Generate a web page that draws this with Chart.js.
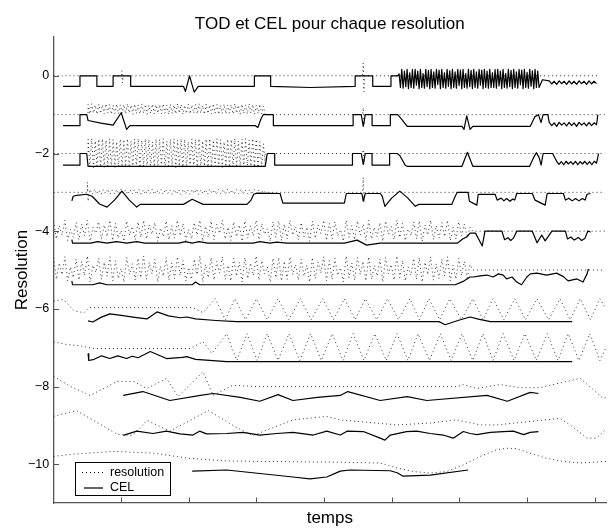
<!DOCTYPE html>
<html>
<head>
<meta charset="utf-8">
<script src="https://cdn.jsdelivr.net/npm/chart.js@4.4.1/dist/chart.umd.min.js"></script>
<style>
  html, body { margin: 0; padding: 0; background: #fff; }
</style>
</head>
<body>
<canvas id="chart" width="609" height="529"></canvas>
<script>
// time axis: 0..817, ticks every 100 (no labels); resolution axis: -11..1
const xTicks = [100, 200, 300, 400, 500, 600, 700, 800];
const yTicks = [-10, -8, -6, -4, -2, 0];

// dense stretches: values typed off the picture, spread evenly over their span
const cel0Mesh = [0.05, -0.3, 0.17, -0.32, 0.12, -0.28, 0.17, -0.33, 0.08, -0.3, 0.16, -0.32, 0.17, -0.24, 0.12, -0.33, 0.17, -0.3, 0.06, -0.32,
  0.17, -0.28, 0.14, -0.33, 0.17, -0.3, 0.1, -0.32, 0.17, -0.22, 0.15, -0.33, 0.17, -0.3, 0.08, -0.32, 0.17, -0.27, 0.13, -0.33,
  0.17, -0.3, 0.1, -0.32, 0.17, -0.25, 0.15, -0.33, 0.17, -0.3, 0.06, -0.32, 0.17, -0.28, 0.14, -0.33, 0.17, -0.3, 0.1, -0.32,
  0.17, -0.24, 0.15, -0.33, 0.17, -0.3, 0.12, -0.32, 0.17, -0.3, 0.08, -0.3, 0.16, -0.32, 0.17, -0.26, 0.12, -0.33, 0.17, -0.3,
  0.06, -0.32, 0.17, -0.28, 0.14, -0.33, 0.17, -0.3, 0.1, -0.32, 0.17, -0.23, 0.15, -0.33, 0.17, -0.3, 0.09, -0.32, 0.17, -0.27,
  0.13, -0.33, 0.17, -0.3, 0.12, -0.3];
const saw0 = [-0.13, -0.21, -0.14, -0.22, -0.13, -0.2, -0.14, -0.22, -0.13, -0.21, -0.14, -0.22, -0.13, -0.2, -0.14, -0.22, -0.13, -0.21, -0.14, -0.2];
const saw1 = [-1.2, -1.28, -1.21, -1.3, -1.2, -1.27, -1.21, -1.29, -1.2, -1.28, -1.21, -1.3, -1.2, -1.27, -1.21, -1.29, -1.2, -1.28, -1.21, -1.26];
const saw2 = [-2.2, -2.28, -2.21, -2.29, -2.2, -2.27, -2.21, -2.28, -2.2, -2.29, -2.21, -2.27, -2.2, -2.28, -2.21, -2.29, -2.2, -2.25];

const tod1Chain = [-0.74, -0.98, -0.72, -0.96, -0.76, -0.99, -0.73, -0.97, -0.75, -0.98,
  -0.72, -0.96, -0.74, -0.99, -0.76, -0.97, -0.73, -0.98, -0.75, -0.96,
  -0.74, -0.98, -0.72, -0.96, -0.76, -0.99, -0.73, -0.97, -0.75, -0.98,
  -0.72, -0.96, -0.74, -0.99, -0.76, -0.97, -0.73, -0.98, -0.75, -0.96,
  -0.74, -0.98, -0.72, -0.96, -0.76, -0.99, -0.73, -0.97, -0.75, -0.98,
  -0.72, -0.96, -0.74, -0.99, -0.76, -0.97, -0.73, -0.98, -0.75, -0.96,
  -0.74, -0.98, -0.72, -0.96, -0.76, -0.99, -0.73, -0.97, -0.75, -0.98,
  -0.72, -0.96, -0.74, -0.99, -0.76, -0.97, -0.73, -0.98, -0.75, -0.96,
  -0.74, -0.98, -0.72, -0.96, -0.76, -0.99, -0.73, -0.97, -0.75, -0.98,
  -0.72, -0.96, -0.74, -0.99, -0.76, -0.97, -0.73, -0.98, -0.78, -1.0];
const tod2Mesh = [-1.64, -2.34, -1.62, -2.36, -1.68, -2.32, -1.63, -2.35, -1.62, -2.36,
  -1.66, -2.33, -1.62, -2.35, -1.64, -2.36, -1.7, -2.34, -1.63, -2.35,
  -1.64, -2.34, -1.62, -2.36, -1.68, -2.32, -1.63, -2.35, -1.62, -2.36,
  -1.66, -2.33, -1.62, -2.35, -1.64, -2.36, -1.7, -2.34, -1.63, -2.35,
  -1.64, -2.34, -1.62, -2.36, -1.68, -2.32, -1.63, -2.35, -1.62, -2.36,
  -1.66, -2.33, -1.62, -2.35, -1.64, -2.36, -1.7, -2.34, -1.63, -2.35,
  -1.64, -2.34, -1.62, -2.36, -1.68, -2.32, -1.63, -2.35, -1.62, -2.36,
  -1.66, -2.33, -1.62, -2.35, -1.64, -2.36, -1.7, -2.34, -1.63, -2.35,
  -1.64, -2.34, -1.62, -2.36, -1.68, -2.32, -1.63, -2.35, -1.62, -2.36,
  -1.66, -2.33, -1.62, -2.35, -1.64, -2.36, -1.7, -2.34, -1.75, -2.3];
const tod3Zig = [-2.93, -3.05, -2.92, -3.04, -2.94, -3.05, -2.93, -3.03, -2.92, -3.05,
  -2.94, -3.04, -2.93, -3.05, -2.92, -3.03, -2.94, -3.05, -2.93, -3.04,
  -2.93, -3.05, -2.92, -3.04, -2.94, -3.05, -2.93, -3.03, -2.92, -3.05,
  -2.94, -3.04, -2.93, -3.05, -2.92, -3.03, -2.94, -3.05, -2.93, -3.04,
  -2.93, -3.05, -2.92, -3.04, -2.94, -3.05, -2.93, -3.03, -2.92, -3.05,
  -2.94, -3.04, -2.93, -3.05, -2.92, -3.03, -2.94, -3.05, -2.93, -3.04,
  -2.93, -3.05, -2.92, -3.04, -2.94, -3.05, -2.93, -3.03, -2.92, -3.05,
  -2.94, -3.04, -2.93, -3.05, -2.92, -3.03, -2.94, -3.05, -2.95, -3.0];
const tod4Cloud = [-3.74, -4.2, -3.86, -4.1, -3.72, -4.24, -3.95, -4.16, -3.78, -4.22,
  -3.82, -4.12, -3.72, -4.26, -3.9, -4.05, -3.76, -4.2, -3.84, -4.14,
  -3.72, -4.24, -3.8, -4.18, -3.98, -4.26, -3.74, -4.1, -3.88, -4.22,
  -3.76, -4.16, -3.72, -4.2, -3.84, -4.08, -3.78, -4.26, -3.92, -4.14,
  -3.74, -4.22, -3.86, -4.18, -3.72, -4.12, -3.8, -4.24, -3.96, -4.2,
  -3.78, -4.1, -3.72, -4.26, -3.88, -4.16, -3.74, -4.22, -3.82, -4.06,
  -3.72, -4.2, -3.9, -4.24, -3.76, -4.14, -3.84, -4.26, -3.74, -4.18,
  -3.86, -4.12, -3.72, -4.22, -3.8, -4.08, -3.94, -4.26, -3.76, -4.16,
  -3.74, -4.24, -3.82, -4.2, -3.72, -4.1, -3.88, -4.22, -3.78, -4.14,
  -3.9, -4.26, -3.74, -4.18, -3.84, -4.06, -3.72, -4.24, -3.8, -4.2,
  -3.76, -4.12, -3.96, -4.26, -3.72, -4.16, -3.86, -4.22, -3.74, -4.1,
  -3.82, -4.24, -3.72, -4.2, -3.9, -4.14, -3.78, -4.26, -3.74, -4.08,
  -3.88, -4.22, -3.72, -4.16, -3.8, -4.24, -3.94, -4.12, -3.76, -4.2,
  -3.74, -4.26, -3.84, -4.1, -3.72, -4.22, -3.86, -4.18, -3.78, -4.14,
  -3.72, -4.24, -3.9, -4.2, -3.76, -4.12, -3.82, -4.16, -3.9, -4.0];
const tod5Cloud = [-4.68, -5.24, -4.82, -5.12, -4.66, -5.28, -4.92, -5.2, -4.72, -5.26,
  -4.78, -5.14, -4.64, -5.31, -4.88, -5.06, -4.7, -5.24, -4.8, -5.16,
  -4.66, -5.28, -4.76, -5.22, -4.96, -5.31, -4.68, -5.12, -4.84, -5.26,
  -4.7, -5.2, -4.64, -5.24, -4.8, -5.1, -4.72, -5.31, -4.9, -5.16,
  -4.68, -5.26, -4.82, -5.22, -4.66, -5.14, -4.76, -5.28, -4.94, -5.24,
  -4.72, -5.12, -4.64, -5.31, -4.86, -5.2, -4.68, -5.26, -4.78, -5.08,
  -4.66, -5.24, -4.88, -5.28, -4.7, -5.16, -4.8, -5.31, -4.68, -5.22,
  -4.82, -5.14, -4.64, -5.26, -4.76, -5.1, -4.92, -5.31, -4.7, -5.2,
  -4.68, -5.28, -4.78, -5.24, -4.66, -5.12, -4.86, -5.26, -4.72, -5.16,
  -4.88, -5.31, -4.68, -5.22, -4.8, -5.08, -4.66, -5.28, -4.76, -5.24,
  -4.7, -5.14, -4.94, -5.31, -4.64, -5.2, -4.82, -5.26, -4.68, -5.12,
  -4.78, -5.28, -4.66, -5.24, -4.88, -5.16, -4.72, -5.31, -4.68, -5.1,
  -4.86, -5.26, -4.64, -5.2, -4.76, -5.28, -4.92, -5.14, -4.7, -5.24,
  -4.68, -5.31, -4.8, -5.12, -4.66, -5.26, -4.84, -5.22, -4.72, -5.16,
  -4.66, -5.28, -4.88, -5.24, -4.7, -5.14, -4.78, -5.2, -4.86, -5.0];

function spread(t0, t1, vals) {
  const step = (t1 - t0) / (vals.length - 1);
  return vals.map((v, i) => [t0 + i * step, v]);
}

// TOD (dotted) per resolution
const tod0 = [[0, 0], [100, 0], [101, 0.13], [102, -0.18], [103, 0], [457, 0], [458, 0.33], [459, -0.41], [460, 0], [805, 0]];
const tod1 = [[0, -1], [51, -1], ...spread(51, 313, tod1Chain), [457, -1], [458, -0.82], [459, -1.26], [460, -1], [815, -1]];
const tod2 = [[0, -2], [51, -2], ...spread(51, 313, tod2Mesh), [313, -2], [457, -2], [458, -1.9], [459, -2.28], [460, -2], [815, -2]];
const tod3 = [[0, -3], [50, -3], [50, -2.74], [51, -3.23], [53, -3], ...spread(54, 313, tod3Zig), [457, -3], [458, -2.62], [459, -3.26], [460, -3], [815, -3]];
const tod4 = [...spread(0, 620, tod4Cloud), [815, -4]];
const tod5 = [...spread(0, 620, tod5Cloud), [815, -5]];
const tod6 = [[0, -5.8], [15, -5.76], [30, -6.05], [45, -6.1], [52, -5.97], [206, -5.97], [221, -6.1], [239, -5.74], [254, -6.28], [268, -5.74],
  [284, -6.28], [300, -5.74], [316, -6.28], [332, -5.74], [348, -6.28], [365, -5.74], [381, -6.28], [398, -5.74], [414, -6.28], [430, -5.74],
  [446, -6.28], [461, -5.74], [478, -6.28], [494, -5.74], [510, -6.28], [527, -5.74], [541, -6.28], [555, -5.74], [571, -6.28], [586, -5.74],
  [603, -6.28], [620, -5.74], [635, -6.28], [650, -5.74], [666, -6.28], [682, -5.74], [698, -6.28], [715, -5.74], [732, -6.28], [749, -5.74],
  [764, -6.28], [779, -5.74], [794, -6.28], [808, -5.74], [817, -6.0]];
const tod7 = [[0, -6.85], [20, -6.92], [39, -6.95], [58, -7.02], [202, -7.02], [221, -6.85], [234, -7.15], [256, -6.64], [271, -7.33], [286, -6.64],
  [301, -7.33], [316, -6.64], [332, -7.33], [348, -6.64], [364, -7.33], [380, -6.64], [396, -7.33], [412, -6.64], [428, -7.33], [443, -6.64],
  [459, -7.33], [475, -6.64], [492, -7.33], [508, -6.64], [524, -7.33], [539, -6.64], [556, -7.33], [572, -6.64], [588, -7.33], [604, -6.64],
  [620, -7.33], [635, -6.64], [650, -7.33], [665, -6.64], [681, -7.33], [697, -6.64], [714, -7.33], [730, -6.64], [746, -7.33], [761, -6.64],
  [777, -7.33], [793, -6.64], [808, -7.33], [817, -7.0]];
const tod8 = [[0, -7.74], [25, -8.0], [54, -8.23], [94, -7.87], [118, -7.87], [138, -8.05], [167, -7.79], [184, -8.26], [221, -7.62], [236, -8.23],
  [265, -7.97], [300, -8.0], [597, -8.0], [606, -7.95], [626, -8.05], [660, -7.95], [690, -8.03], [719, -8.03], [779, -7.79], [813, -8.31], [817, -8.28]];
const tod9 = [[0, -8.77], [34, -8.62], [94, -9.23], [117, -9.26], [138, -8.87], [172, -9.15], [229, -8.62], [270, -9.05], [295, -9.26], [354, -8.86],
  [404, -8.77], [424, -8.86], [508, -8.99], [557, -8.94], [596, -8.86], [631, -8.99], [655, -8.99], [705, -8.9], [749, -8.82], [764, -8.99],
  [789, -9.33], [803, -9.33], [817, -9.1]];
const tod10 = [[0, -9.8], [30, -9.74], [90, -9.67], [150, -9.72], [200, -9.85], [260, -9.92], [424, -9.95], [483, -9.97], [508, -10.1], [532, -10.19],
  [557, -10.23], [581, -10.19], [606, -10.02], [631, -9.8], [655, -9.63], [670, -9.59], [685, -9.6], [705, -9.72], [729, -9.85], [754, -9.93],
  [779, -9.97], [817, -9.93]];

// CEL (solid) per resolution
const cel0 = [[14, -0.27], [39, -0.27], [39, 0], [64, 0], [64, -0.27], [88, -0.27], [88, 0], [114, 0], [114, -0.27], [192, -0.27],
  [195, -0.4], [201, 0], [208, -0.42], [214, -0.27], [297, -0.27], [297, 0], [321, 0], [321, -0.27], [380, -0.3], [446, -0.27],
  [446, 0], [472, 0], [472, -0.27], [499, -0.27], [499, 0], [509, 0], ...spread(511, 718, cel0Mesh), [723, -0.1], ...spread(733, 803, saw0)];
const cel1 = [[14, -1.28], [39, -1.28], [39, -1], [49, -1], [51, -1.15], [70, -1.22], [88, -1.27], [100, -0.95], [108, -1.38], [113, -1.28],
  [298, -1.28], [302, -1.33], [307, -1.1], [310, -1.0], [325, -1.0], [325, -1.28], [443, -1.28], [443, -1], [455, -1], [458, -1.3],
  [461, -1], [471, -1], [471, -1.28], [498, -1.28], [498, -1], [509, -1], [514, -1.1], [523, -1.3], [604, -1.3], [607, -1.38],
  [611, -1.03], [616, -1.38], [620, -1.3], [705, -1.3], [712, -1.05], [717, -1.0], [721, -1.2], [724, -1.0], [731, -1.0],
  ...spread(733, 803, saw1), [805, -1.0]];
const cel2 = [[14, -2.3], [39, -2.3], [39, -2], [49, -2], [51, -2.33], [313, -2.33], [316, -2.0], [327, -2.0], [327, -2.3], [442, -2.3],
  [442, -2.0], [455, -2.0], [458, -2.28], [461, -2.0], [471, -2.0], [471, -2.3], [497, -2.3], [497, -2.0], [508, -2.0], [512, -2.05],
  [520, -2.3], [523, -2.33], [604, -2.33], [612, -1.97], [620, -2.33], [704, -2.33], [710, -2.1], [714, -1.98], [718, -2.1], [721, -2.3],
  [724, -2.0], [738, -2.0], ...spread(744, 803, saw2), [806, -2.0]];
const cel3 = [[27, -3.22], [29, -3.1], [34, -3.08], [49, -3.05], [57, -3.1], [68, -3.3], [79, -3.38], [90, -3.2], [101, -2.97], [112, -3.2],
  [123, -3.38], [128, -3.31], [192, -3.31], [205, -3.18], [221, -3.31], [286, -3.31], [292, -3.2], [296, -3.05], [301, -3.02], [335, -3.03],
  [339, -3.28], [430, -3.28], [433, -3.03], [456, -3.03], [458, -3.23], [461, -3.03], [483, -3.03], [486, -3.1], [490, -3.36], [500, -3.15],
  [512, -2.97], [524, -3.15], [535, -3.36], [540, -3.31], [589, -3.31], [594, -3.1], [597, -3.0], [613, -3.0], [615, -3.23], [626, -3.33],
  [628, -3.05], [653, -3.05], [656, -3.2], [662, -3.15], [666, -3.22], [670, -3.16], [675, -3.23], [679, -3.17], [682, -3.2], [685, -3.03],
  [708, -3.03], [712, -3.2], [727, -3.33], [730, -3.03], [754, -3.03], [757, -3.2], [762, -3.15], [767, -3.22], [772, -3.16], [777, -3.22],
  [782, -3.16], [786, -3.2], [789, -3.05], [794, -3.03]];
const cel4 = [[27, -4.22], [28, -4.31], [55, -4.31], [65, -4.27], [79, -4.31], [93, -4.27], [108, -4.31], [123, -4.27], [135, -4.31], [185, -4.31],
  [195, -4.27], [205, -4.31], [215, -4.27], [228, -4.31], [295, -4.31], [305, -4.27], [320, -4.31], [330, -4.28], [345, -4.31], [430, -4.31],
  [449, -4.23], [463, -4.36], [483, -4.31], [597, -4.31], [605, -4.2], [611, -4.15], [616, -4.05], [624, -4.05], [634, -4.38], [638, -4.0],
  [663, -4.0], [667, -4.22], [672, -4.17], [676, -4.24], [680, -4.18], [685, -4.0], [708, -4.0], [715, -4.3], [722, -4.1], [727, -4.25],
  [737, -4.0], [757, -4.0], [760, -4.2], [765, -4.15], [770, -4.23], [776, -4.16], [781, -4.24], [786, -4.18], [790, -4.0], [794, -4.02]];
const cel5 = [[27, -5.28], [28, -5.38], [58, -5.38], [68, -5.33], [79, -5.38], [205, -5.38], [210, -5.31], [216, -5.38], [594, -5.38], [605, -5.3],
  [616, -5.18], [621, -5.18], [631, -5.15], [641, -5.13], [650, -5.18], [658, -5.1], [665, -5.13], [670, -5.23], [678, -5.18], [685, -5.31],
  [692, -5.38], [700, -5.18], [705, -5.1], [715, -5.08], [729, -5.13], [744, -5.08], [754, -5.17], [761, -5.28], [774, -5.23], [783, -5.31],
  [789, -5.1], [791, -4.97]];
const cel6 = [[51, -6.31], [58, -6.34], [70, -6.22], [83, -6.13], [100, -6.17], [120, -6.22], [138, -6.26], [153, -6.08], [170, -6.18], [187, -6.23],
  [197, -6.21], [210, -6.26], [240, -6.3], [271, -6.33], [570, -6.33], [579, -6.41], [598, -6.3], [616, -6.21], [630, -6.27], [646, -6.33], [767, -6.33]];
const cel7 = [[51, -7.15], [52, -7.33], [60, -7.3], [71, -7.21], [83, -7.28], [95, -7.21], [108, -7.28], [116, -7.22], [125, -7.26], [143, -7.1],
  [167, -7.28], [190, -7.25], [197, -7.23], [210, -7.3], [256, -7.36], [767, -7.36]];
const cel8 = [[103, -8.23], [132, -8.13], [172, -8.36], [217, -8.23], [236, -8.18], [276, -8.28], [305, -8.38], [332, -8.21], [354, -8.36], [390, -8.28],
  [424, -8.23], [435, -8.13], [483, -8.36], [523, -8.26], [552, -8.36], [641, -8.23], [671, -8.38], [705, -8.15], [717, -8.18]];
const cel9 = [[103, -9.26], [123, -9.15], [147, -9.21], [167, -9.15], [187, -9.22], [206, -9.25], [216, -9.15], [226, -9.22], [256, -9.21], [280, -9.18],
  [305, -9.25], [330, -9.21], [354, -9.18], [384, -9.25], [404, -9.15], [424, -9.25], [434, -9.15], [458, -9.16], [483, -9.33], [490, -9.38],
  [498, -9.25], [522, -9.16], [537, -9.15], [557, -9.21], [576, -9.25], [591, -9.33], [606, -9.16], [616, -9.21], [626, -9.24], [646, -9.18],
  [665, -9.16], [680, -9.15], [695, -9.24], [705, -9.18], [717, -9.16]];
const cel10 = [[205, -10.18], [256, -10.15], [305, -10.24], [354, -10.33], [379, -10.38], [404, -10.33], [424, -10.18], [438, -10.15], [498, -10.17],
  [508, -10.22], [517, -10.31], [557, -10.28], [613, -10.15]];

const tods = [tod0, tod1, tod2, tod3, tod4, tod5, tod6, tod7, tod8, tod9, tod10];
const cels = [cel0, cel1, cel2, cel3, cel4, cel5, cel6, cel7, cel8, cel9, cel10];

const fontFamily = '"Liberation Sans", Arial, Helvetica, sans-serif';
const axisColor = '#555';
const dotColor = 'rgba(0,0,0,0.8)';
Chart.defaults.font.family = fontFamily;
Chart.defaults.color = '#000';

const datasets = [];
tods.forEach((d) => datasets.push({
  label: 'resolution', data: d, showLine: true, pointRadius: 0, borderColor: dotColor,
  borderWidth: 1, borderDash: [1, 3], borderJoinStyle: 'round', tension: 0, order: 2,
}));
cels.forEach((d) => datasets.push({
  label: 'CEL', data: d, showLine: true, pointRadius: 0, borderColor: '#000',
  borderWidth: 1.2, borderJoinStyle: 'round', tension: 0, order: 1,
}));

// inward tick marks, title and legend box
const decorations = {
  id: 'decorations',
  afterDatasetsDraw(chart) {
    const { ctx, chartArea: a, scales: { x, y } } = chart;
    ctx.save();
    ctx.strokeStyle = axisColor;
    ctx.lineWidth = 1;
    ctx.beginPath();
    xTicks.forEach((t) => {
      const px = Math.round(x.getPixelForValue(t)) + 0.5;
      ctx.moveTo(px, a.bottom);
      ctx.lineTo(px, a.bottom - 5.5);
    });
    yTicks.forEach((v) => {
      const py = Math.round(y.getPixelForValue(v)) + 0.5;
      ctx.moveTo(a.left, py);
      ctx.lineTo(a.left + 5.5, py);
    });
    ctx.stroke();

    // legend
    const lx = 75.5, ly = 462.5, lw = 95, lh = 33;
    ctx.fillStyle = '#fff';
    ctx.fillRect(lx, ly, lw, lh);
    ctx.strokeStyle = '#000';
    ctx.strokeRect(lx, ly, lw, lh);
    ctx.beginPath();
    ctx.setLineDash([1, 3]);
    ctx.moveTo(82, 472.5);
    ctx.lineTo(103, 472.5);
    ctx.stroke();
    ctx.setLineDash([]);
    ctx.lineWidth = 1.2;
    ctx.beginPath();
    ctx.moveTo(84, 488);
    ctx.lineTo(103, 488);
    ctx.stroke();
    ctx.fillStyle = '#000';
    ctx.font = '12.5px ' + fontFamily;
    ctx.textBaseline = 'middle';
    ctx.textAlign = 'left';
    ctx.fillText('resolution', 110, 472.5);
    ctx.fillText('CEL', 110, 488);

    // title centred over the axes
    ctx.font = '17px ' + fontFamily;
    ctx.textAlign = 'center';
    ctx.textBaseline = 'alphabetic';
    ctx.fillText('TOD et CEL pour chaque resolution', (a.left + a.right) / 2, 28.5);
    ctx.restore();
  },
};

new Chart(document.getElementById('chart'), {
  type: 'scatter',
  data: { datasets },
  options: {
    responsive: false,
    animation: false,
    devicePixelRatio: 1,
    layout: { padding: { top: 37, right: 3, left: 0, bottom: 0 } },
    plugins: { legend: { display: false }, tooltip: { enabled: false }, title: { display: false } },
    scales: {
      x: {
        type: 'linear', min: 0, max: 817,
        grid: { display: false, drawTicks: false },
        border: { display: true, color: axisColor, width: 1.3 },
        ticks: { display: false },
        title: { display: true, text: 'temps', font: { size: 17 }, color: '#000', padding: { top: 0, bottom: 0 } },
        afterFit: (s) => { s.height = 26; },
      },
      y: {
        type: 'linear', min: -11, max: 1,
        grid: { display: false, drawTicks: false },
        border: { display: true, color: axisColor, width: 1.3 },
        afterBuildTicks: (s) => { s.ticks = yTicks.map((v) => ({ value: v })); },
        ticks: {
          padding: 4.5, color: '#000', font: { size: 12.5 },
          callback: (v) => (v === 0 ? '0' : '\u2212' + Math.abs(v)),
        },
        title: { display: true, text: 'Resolution', font: { size: 17 }, color: '#000', padding: { top: 12, bottom: 0 } },
        afterFit: (s) => { s.width = 53.6; },
      },
    },
  },
  plugins: [decorations],
});
</script>
</body>
</html>
